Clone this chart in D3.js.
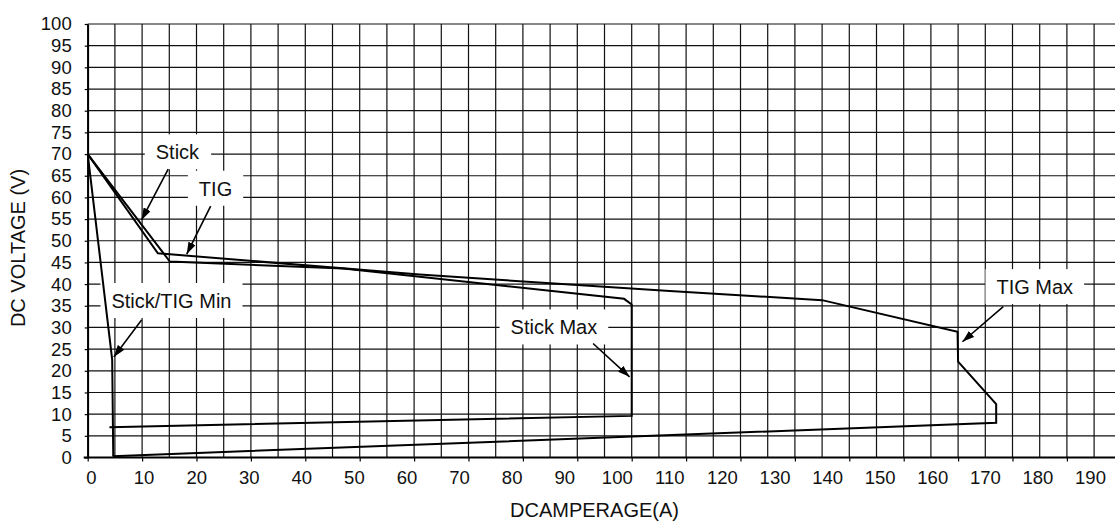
<!DOCTYPE html>
<html>
<head>
<meta charset="utf-8">
<script src="https://cdn.jsdelivr.net/npm/d3@7"></script>
<style>
  html, body { margin: 0; padding: 0; background: #fff; }
  svg { display: block; font-family: "Liberation Sans", Arial, sans-serif; }
</style>
</head>
<body>
<svg id="chart" width="1115" height="527"></svg>
<script>
// volt-amp curves (amps, volts)
var stickCurve = [[0, 70], [15.1, 45.2], [47, 43.6], [98.6, 36.6], [100, 35.3], [100, 9.6], [4, 7.0]];
var tigCurve = [[0, 70], [12.9, 47.1], [61, 42.2], [107, 38.4], [135, 36.3], [159.9, 29.0], [160, 22.1],
    [167, 12.3], [167, 8.0], [4.6, 0.3]];
var minCurve = [[0, 70], [4.5, 22.6], [4.7, 0.3]];

var ampTicks = d3.range(0, 200, 10);
var voltTicks = d3.range(0, 101, 5);
var gridAmps = d3.range(0, 201, 5);

// callouts: label centre and arrow start/tip, in amps/volts
var notes = [
    {text: "Stick", lx: 16.5, ly: 70.4, ax: 14.8, ay: 66.5, tx: 9.9, ty: 54.8},
    {text: "TIG", lx: 23.5, ly: 62.0, ax: 22.6, ay: 58.0, tx: 18.2, ty: 46.9},
    {text: "Stick/TIG Min", lx: 15.4, ly: 36.1, ax: 9.9, ay: 31.7, tx: 4.8, ty: 23.2},
    {text: "Stick Max", lx: 85.7, ly: 30.0, ax: 92.9, ay: 26.3, tx: 99.6, ty: 18.6},
    {text: "TIG Max", lx: 174.1, ly: 39.3, ax: 168.3, ay: 34.8, tx: 160.8, ty: 26.7}
];

var svg = d3.select("#chart");

var x = d3.scaleLinear().domain([0, 200]).range([87.7, 1175.7]);
var y = d3.scaleLinear().domain([0, 100]).range([457.5, 24]);
// the tick numbers in the original sit on their own, slightly wider spacing
var xLabel = d3.scaleLinear().domain([0, 190]).range([91, 1090]);

var font = "Liberation Sans, Arial, sans-serif";

// grid
var grid = svg.append("g").attr("stroke", "#111").attr("stroke-width", 1.2);
grid.selectAll(".vline")
    .data(gridAmps)
    .enter().append("line")
    .attr("x1", d => x(d)).attr("x2", d => x(d))
    .attr("y1", y(0)).attr("y2", y(100));
grid.selectAll(".hline")
    .data(voltTicks)
    .enter().append("line")
    .attr("x1", x(0)).attr("x2", x(200))
    .attr("y1", d => y(d)).attr("y2", d => y(d));

// axes
var xAxis = svg.append("g")
    .attr("transform", `translate(0,${y(0)})`)
    .call(d3.axisBottom(x).tickValues(ampTicks).tickSize(4).tickSizeOuter(0).tickFormat(""));
xAxis.select(".domain").attr("stroke", "#000").attr("stroke-width", 1.8).attr("d", `M${x(0) - 4},0H${x(200)}`);
xAxis.selectAll(".tick line").attr("stroke", "#000").attr("stroke-width", 1.2);

var xLabels = svg.append("g")
    .attr("transform", `translate(0,${y(0)})`)
    .call(d3.axisBottom(xLabel).tickValues(ampTicks).tickSize(0).tickPadding(13));
xLabels.select(".domain").remove();
xLabels.selectAll("text").attr("font-size", "18.5px").attr("fill", "#111").attr("font-family", font);

var yAxis = svg.append("g")
    .attr("transform", `translate(${x(0)},0)`)
    .call(d3.axisLeft(y).tickValues(voltTicks).tickSize(3).tickSizeOuter(0).tickPadding(13));
yAxis.select(".domain").attr("stroke", "#000").attr("stroke-width", 1.8);
yAxis.selectAll(".tick line").attr("stroke", "#000").attr("stroke-width", 1.2);
yAxis.selectAll("text").attr("font-size", "18.5px").attr("fill", "#111").attr("font-family", font);

// arrowheads
svg.append("defs").append("marker")
    .attr("id", "head")
    .attr("markerUnits", "userSpaceOnUse")
    .attr("viewBox", "0 0 12 8")
    .attr("refX", 12).attr("refY", 4)
    .attr("markerWidth", 12).attr("markerHeight", 8)
    .attr("orient", "auto")
    .append("path")
    .attr("d", "M0,0L12,4L0,8Z")
    .attr("fill", "#000");

// callout boxes go under the curves, text and arrows on top
var boxLayer = svg.append("g");
var curveLayer = svg.append("g");
var noteLayer = svg.append("g");

var line = d3.line().x(d => x(d[0])).y(d => y(d[1]));
curveLayer.selectAll("path")
    .data([stickCurve, tigCurve, minCurve])
    .enter().append("path")
    .attr("d", line)
    .attr("fill", "none")
    .attr("stroke", "#000")
    .attr("stroke-width", 2)
    .attr("stroke-linejoin", "miter");

var note = noteLayer.selectAll("g")
    .data(notes)
    .enter().append("g");

note.append("text")
    .attr("x", d => x(d.lx))
    .attr("y", d => y(d.ly))
    .attr("dy", "0.35em")
    .attr("text-anchor", "middle")
    .attr("font-size", "20px")
    .attr("fill", "#111")
    .text(d => d.text)
    .each(function () {
        let b = this.getBBox();
        boxLayer.append("rect")
            .attr("fill", "#fff")
            .attr("x", b.x - 11).attr("y", b.y - 7)
            .attr("width", b.width + 22).attr("height", b.height + 13);
    });

note.append("line")
    .attr("x1", d => x(d.ax)).attr("y1", d => y(d.ay))
    .attr("x2", d => x(d.tx)).attr("y2", d => y(d.ty))
    .attr("stroke", "#000")
    .attr("stroke-width", 1.6)
    .attr("marker-end", "url(#head)");

// axis titles
svg.append("text")
    .attr("x", 594.5).attr("y", 517)
    .attr("text-anchor", "middle")
    .attr("font-size", "20px")
    .attr("fill", "#111")
    .text("DCAMPERAGE(A)");
svg.append("text")
    .attr("transform", "translate(25,248) rotate(-90)")
    .attr("text-anchor", "middle")
    .attr("font-size", "20px")
    .attr("fill", "#111")
    .text("DC VOLTAGE (V)");
</script>
</body>
</html>
